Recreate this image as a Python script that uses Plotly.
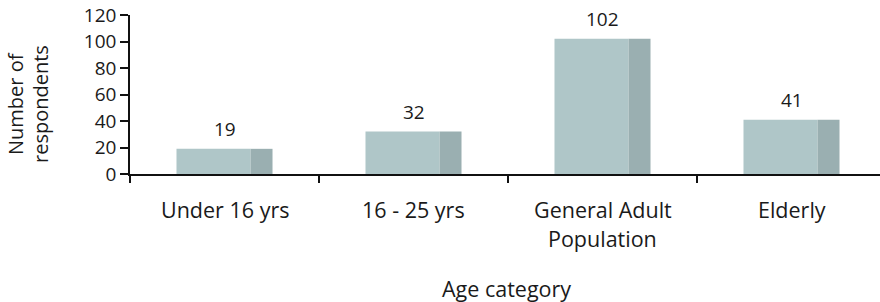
import plotly.graph_objects as go

categories = ["Under 16 yrs", "16 - 25 yrs", "General Adult Population", "Elderly"]
label_lines = [["Under 16 yrs"], ["16 - 25 yrs"], ["General Adult", "Population"], ["Elderly"]]
values = [19, 32, 102, 41]
y_ticks = [0, 20, 40, 60, 80, 100, 120]

FONT = "Open Sans"
FS_LABEL = 21.5
FS_NUM = 19
FS_YT = 20
TXT = "#1a1a1a"
L, R, T, B = 130, 0, 15, 128
W, H = 880, 302
PW, PH = W - L - R, H - T - B

def px2paper_x(px):
    return (px - L) / PW

def px2paper_y(py):
    return (H - B - py) / PH

fig = go.Figure()
fig.add_trace(go.Bar(x=categories, y=values, offset=-0.254, width=0.392,
                     marker=dict(color="#afc6c8", line=dict(width=0)),
                     hoverinfo="skip", showlegend=False))
fig.add_trace(go.Bar(x=categories, y=values, offset=0.138, width=0.116,
                     marker=dict(color="#9aafb1", line=dict(width=0)),
                     hoverinfo="skip", showlegend=False))

annotations = []
for c, v in zip(categories, values):
    annotations.append(dict(x=c, y=v, xref="x", yref="y", text=str(v), showarrow=False,
                            yshift=20, xanchor="center", yanchor="middle",
                            font=dict(family=FONT, size=FS_NUM, color=TXT)))
for c, lines in zip(categories, label_lines):
    for i, line in enumerate(lines):
        annotations.append(dict(x=c, y=px2paper_y(209 + 29 * i), xref="x", yref="paper",
                                text=line, showarrow=False, xanchor="center", yanchor="middle",
                                font=dict(family=FONT, size=FS_LABEL, color=TXT)))
for i, line in enumerate(["Number of", "respondents"]):
    annotations.append(dict(x=px2paper_x(15 + 25 * i), y=px2paper_y(104), xref="paper", yref="paper",
                            text=line, textangle=-90, showarrow=False, xanchor="center", yanchor="middle",
                            font=dict(family=FONT, size=FS_YT, color=TXT)))
annotations.append(dict(x=px2paper_x(506), y=px2paper_y(288), xref="paper", yref="paper",
                        text="Age category", showarrow=False, xanchor="center", yanchor="middle",
                        font=dict(family=FONT, size=FS_LABEL, color=TXT)))

fig.update_layout(
    width=W, height=H,
    margin=dict(l=L, r=R, t=T, b=B, autoexpand=False),
    paper_bgcolor="white", plot_bgcolor="white",
    barmode="overlay",
    annotations=annotations,
    xaxis=dict(range=[-0.5, -0.5 + PW / 189], showgrid=False, zeroline=False,
               showline=True, linecolor="#111", linewidth=1.5,
               ticks="outside", tickson="boundaries", ticklen=7, tickcolor="#111", tickwidth=1.5,
               showticklabels=False, fixedrange=True, automargin=False),
    yaxis=dict(range=[0, 120], tickvals=y_ticks, ticktext=[str(t) for t in y_ticks],
               showgrid=False, zeroline=False, showline=True, linecolor="#111", linewidth=1.5,
               ticks="outside", ticklen=8, tickcolor="#111", tickwidth=1.5,
               tickfont=dict(family=FONT, size=FS_NUM, color=TXT), fixedrange=True, automargin=False),
)

fig.write_html("out.html", config={"displayModeBar": False},
               post_script="document.body.style.margin='0';document.body.style.overflow='hidden';")
